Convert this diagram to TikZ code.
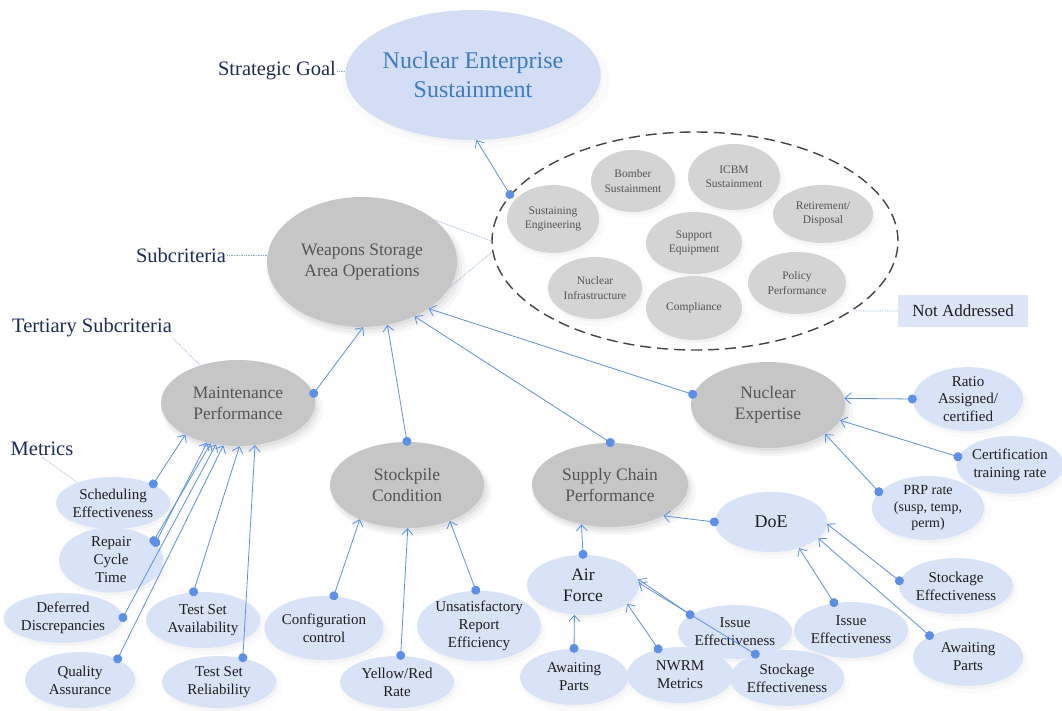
\documentclass[tikz,border=0pt]{standalone}
\usepackage{fontspec}
\setmainfont{Liberation Serif}
\usetikzlibrary{shapes.geometric,arrows.meta,shadows}
\definecolor{connc}{HTML}{5B8FEE}
\definecolor{gfill}{HTML}{C6C6C6}
\definecolor{sfill}{HTML}{D4D4D4}
\definecolor{gtext}{HTML}{555555}
\definecolor{bfill}{HTML}{D9E3F7}
\definecolor{btext}{HTML}{1E1E1E}
\definecolor{nesfill}{HTML}{D3DEF4}
\definecolor{nestext}{HTML}{3A7CC8}
\definecolor{navy}{HTML}{1C2A5E}
\definecolor{lblline}{HTML}{8AA8E0}
\definecolor{nabox}{HTML}{DCE6F8}
\definecolor{dashc}{HTML}{444444}
\begin{document}
\begin{tikzpicture}[x=1pt,y=-1pt,
  gshadow/.style={
    drop shadow={opacity=0.06, shadow xshift=4pt, shadow yshift=-6pt, shadow scale=1.05},
    drop shadow={opacity=0.08, shadow xshift=3pt, shadow yshift=-5pt, shadow scale=1.02},
    drop shadow={opacity=0.10, shadow xshift=2pt, shadow yshift=-3pt}},
  lshadow/.style={
    drop shadow={opacity=0.03, shadow xshift=3pt, shadow yshift=-5pt, shadow scale=1.05},
    drop shadow={opacity=0.05, shadow xshift=2pt, shadow yshift=-3pt}},
  gnode/.style={ellipse, fill=gfill, text=gtext, inner sep=0pt, align=center,
    font=\fontsize{17.5}{21}\selectfont, gshadow},
  snode/.style={ellipse, fill=sfill, text=gtext, inner sep=0pt, align=center,
    font=\fontsize{11.5}{14.5}\selectfont, lshadow},
  bnode/.style={ellipse, fill=bfill, text=btext, inner sep=0pt, align=center,
    font=\fontsize{15}{18}\selectfont, lshadow},
  lbltext/.style={text=navy, inner sep=1pt, font=\fontsize{20.5}{24}\selectfont},
  lblline/.style={draw=lblline, densely dotted, line width=0.7pt},
  arr/.style={draw=connc, line width=0.8pt, shorten <=-4pt,
    {Circle[length=9pt]}-{Straight Barb[length=6pt,width=11pt,line width=0.8pt]}}
]
\fill[white] (0,0) rectangle (1062,711);
\useasboundingbox (0,0) rectangle (1062,711);

% strategic goal
\node[ellipse, fill=nesfill, text=nestext, inner sep=0pt, align=center,
  minimum width=194pt, minimum height=130pt, font=\fontsize{24}{28.5}\selectfont, lshadow]
  (nes) at (473,75) {Nuclear Enterprise\\Sustainment};

% not addressed group
\node[ellipse, draw=dashc, dash pattern=on 11pt off 6pt, line width=1.4pt, inner sep=0pt,
  minimum width=406pt, minimum height=218pt] (naell) at (695,241) {};
\node[snode, minimum width=92pt, minimum height=68pt] (seng) at (553,219) {Sustaining\\Engineering};
\node[snode, minimum width=84pt, minimum height=62pt] (bomb) at (633,181) {Bomber\\Sustainment};
\node[snode, minimum width=92pt, minimum height=66pt] (icbm) at (734,177) {ICBM\\Sustainment};
\node[snode, minimum width=100pt, minimum height=58pt] (retire) at (823,214) {Retirement/\\Disposal};
\node[snode, minimum width=96pt, minimum height=62pt] (supeq) at (694,243) {Support\\Equipment};
\node[snode, minimum width=94pt, minimum height=62pt] (nucinf) at (595,288) {Nuclear\\Infrastructure};
\node[snode, minimum width=96pt, minimum height=64pt] (compl) at (694,308) {Compliance};
\node[snode, minimum width=98pt, minimum height=62pt] (policy) at (797,283) {Policy\\Performance};
\node[rectangle, fill=nabox, text=btext, minimum width=130pt, minimum height=32pt,
  font=\fontsize{17}{20}\selectfont] (na) at (963,311) {Not Addressed};

% subcriteria
\node[gnode, minimum width=190pt, minimum height=130pt] (wsao) at (362,262) {Weapons Storage\\Area Operations};

% tertiary
\node[gnode, minimum width=154pt, minimum height=86pt] (mp) at (238,403) {Maintenance\\Performance};
\node[gnode, minimum width=154pt, minimum height=86pt] (sc) at (407,485) {Stockpile\\Condition};
\node[gnode, minimum width=156pt, minimum height=84pt] (scp) at (610,485) {Supply Chain\\Performance};
\node[gnode, minimum width=154pt, minimum height=86pt] (ne) at (768,405) {Nuclear\\Expertise};

% metrics - nuclear expertise
\node[bnode, minimum width=110pt, minimum height=58pt, font=\fontsize{15}{17.5}\selectfont] (ratio) at (968,399) {Ratio\\Assigned/\\certified};
\node[bnode, minimum width=104pt, minimum height=58pt] (cert) at (1010,465) {Certification\\training rate};
\node[bnode, minimum width=112pt, minimum height=62pt, font=\fontsize{14}{16.5}\selectfont] (prp) at (928,508) {PRP rate\\(susp, temp,\\perm)};

% supply chain
\node[bnode, minimum width=112pt, minimum height=60pt, font=\fontsize{18}{21}\selectfont] (doe) at (771,522) {DoE};
\node[bnode, minimum width=112pt, minimum height=60pt, font=\fontsize{17.5}{21}\selectfont] (af) at (583,585) {Air\\Force};
\node[bnode, minimum width=110pt, minimum height=54pt] (issaf) at (735,632) {Issue\\Effectiveness};
\node[bnode, minimum width=108pt, minimum height=56pt] (apaf) at (574,677) {Awaiting\\Parts};
\node[bnode, minimum width=106pt, minimum height=56pt] (nwrm) at (680,675) {NWRM\\Metrics};
\node[bnode, minimum width=110pt, minimum height=56pt] (stkaf) at (787,678) {Stockage\\Effectiveness};
\node[bnode, minimum width=110pt, minimum height=56pt] (stkdoe) at (956,586) {Stockage\\Effectiveness};
\node[bnode, minimum width=112pt, minimum height=56pt] (issdoe) at (851,630) {Issue\\Effectiveness};
\node[bnode, minimum width=110pt, minimum height=58pt] (apdoe) at (968,657) {Awaiting\\Parts};

% stockpile
\node[bnode, minimum width=118pt, minimum height=64pt] (config) at (324,628) {Configuration\\control};
\node[bnode, minimum width=114pt, minimum height=52pt] (yellow) at (397,682) {Yellow/Red\\Rate};
\node[bnode, minimum width=118pt, minimum height=68pt] (unsat) at (479,626) {Unsatisfactory\\Report\\Efficiency};

% maintenance
\node[bnode, minimum width=108pt, minimum height=52pt] (sched) at (113,503) {Scheduling\\Effectiveness};
\node[bnode, minimum width=104pt, minimum height=56pt] (repair) at (111,560) {Repair\\Cycle\\Time};
\node[bnode, minimum width=104pt, minimum height=50pt] (defer) at (63,618) {Deferred\\Discrepancies};
\node[bnode, minimum width=110pt, minimum height=56pt] (qa) at (80,680) {Quality\\Assurance};
\node[bnode, minimum width=114pt, minimum height=56pt] (tsa) at (203,620) {Test Set\\Availability};
\node[bnode, minimum width=114pt, minimum height=52pt] (tsr) at (219,682) {Test Set\\Reliability};

% level labels
\node[lbltext] (sg) at (277,71) {Strategic Goal};
\node[lbltext] (sub) at (181,255) {Subcriteria};
\node[lbltext] (ter) at (92,328) {Tertiary Subcriteria};
\node[lbltext] (met) at (42,449) {Metrics};

\draw[lblline] (sg.east) -- (nes.west |- sg.east);
\draw[lblline] (sub.east) -- (wsao.west |- sub.east);
\draw[lblline] (ter.south east) -- (mp.135);
\draw[lblline] (met.south) -- (sched.150);
\draw[lblline] (na.west) -- (naell.336);
\draw[lblline] (wsao.30) -- (naell.180);
\draw[lblline] (wsao.344) -- (naell.183);

% connectors
\draw[arr] (naell.166) -- (nes.273);
\draw[arr] (mp.7) -- (wsao.271);
\draw[arr] (sc.90) -- (wsao.292);
\draw[arr] (scp.89) -- (wsao.314);
\draw[arr] (ne.172) -- (wsao.325);
\draw[arr] (ratio.180) -- (ne.5);
\draw[arr] (cert.171) -- (ne.348);
\draw[arr] (prp.162) -- (ne.333);
\draw[arr] (doe.180) -- (scp.330);
\draw[arr] (af.90) -- (scp.234);
\draw[arr] (apaf.90) -- (af.254);
\draw[arr] (nwrm.130) -- (af.337);
\draw[arr] (issaf.159) -- (af.6);
\draw[arr] (stkaf.143) -- (af.2);
\draw[arr] (stkdoe.175) -- (doe.358);
\draw[arr] (issdoe.122) -- (doe.317);
\draw[arr] (apdoe.151) -- (doe.341);
\draw[arr] (config.73) -- (sc.216);
\draw[arr] (yellow.82) -- (sc.271);
\draw[arr] (unsat.95) -- (sc.320);
\draw[arr] (sched.25) -- (mp.211);
\draw[arr] (repair.21) -- (mp.232);
\draw[arr] (repair.24) -- (mp.236);
\draw[arr] (defer.0) -- (mp.242);
\draw[arr] (qa.29) -- (mp.251);
\draw[arr] (tsa.109) -- (mp.272);
\draw[arr] (tsr.45) -- (mp.292);
\end{tikzpicture}
\end{document}
